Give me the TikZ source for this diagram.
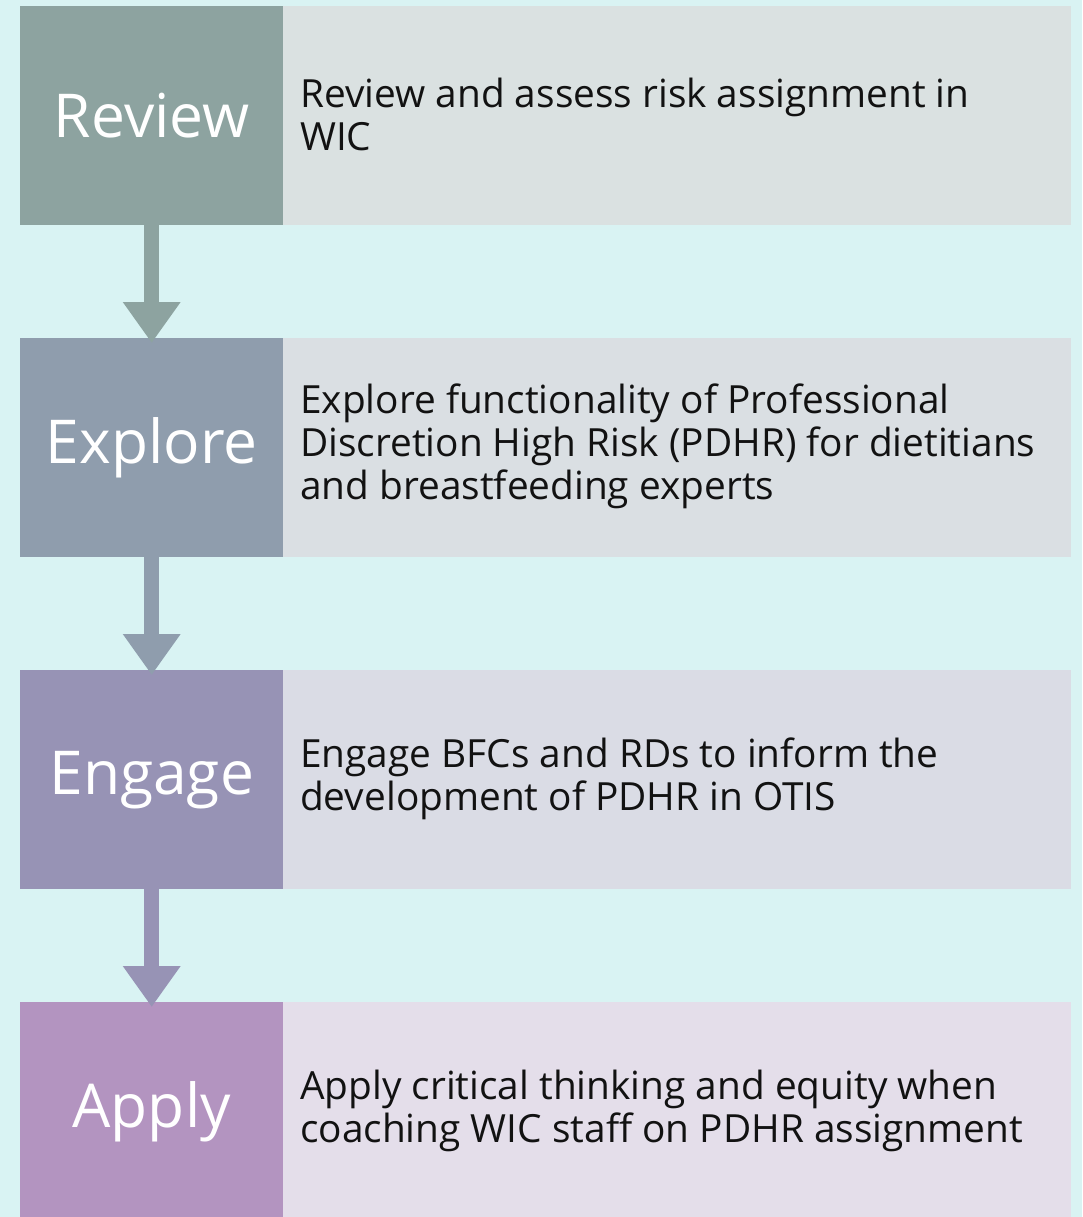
\documentclass[tikz,border=0pt]{standalone}
\usepackage{fontspec}
\setmainfont{Open Sans}[Ligatures=NoCommon]
\usetikzlibrary{arrows.meta}
\definecolor{bgc}{HTML}{D9F3F3}
\definecolor{revc}{HTML}{8DA3A0}
\definecolor{revp}{HTML}{DAE1E1}
\definecolor{expc}{HTML}{8F9DAD}
\definecolor{expp}{HTML}{DADFE3}
\definecolor{engc}{HTML}{9793B5}
\definecolor{engp}{HTML}{DADCE5}
\definecolor{appc}{HTML}{B394C0}
\definecolor{appp}{HTML}{E4DEEA}
\tikzset{
  x=1pt, y=-1pt,
  stage/.style={rectangle, inner sep=0pt, minimum width=263pt, minimum height=219pt,
    anchor=north west, text=white, font=\fontsize{60.5}{64}\selectfont},
  panel/.style={rectangle, inner sep=0pt, minimum width=788pt, minimum height=219pt,
    anchor=north west},
  desc/.style={anchor=west, align=left, text=black!93, inner sep=0pt,
    font=\fontsize{38.8}{43}\selectfont},
  flow/.style={line width=15pt, -{Triangle[width=55pt,length=41pt]}, shorten >=-5pt}
}
\begin{document}
\begin{tikzpicture}
\fill[bgc] (0,0) rectangle (1082,1217);
\useasboundingbox (0,0) rectangle (1082,1217);
\begin{scope}
\clip (0,0) rectangle (1082,1217);
% stage blocks
\node[stage, fill=revc] (s1) at (20,6) {Review};
\node[panel, fill=revp] (p1) at (283,6) {};
\node[stage, fill=expc] (s2) at (20,338) {Explore};
\node[panel, fill=expp] (p2) at (283,338) {};
\node[stage, fill=engc] (s3) at (20,670) {Engage};
\node[panel, fill=engp] (p3) at (283,670) {};
\node[stage, fill=appc] (s4) at (20,1002) {Apply};
\node[panel, fill=appp] (p4) at (283,1002) {};
% descriptions
\node[desc] (d1) at ([xshift=17pt,yshift=1pt]p1.west) {Review and assess risk assignment in\\WIC};
\node[desc] (d2) at ([xshift=17pt,yshift=1pt]p2.west) {Explore functionality of Professional\\Discretion High Risk (PDHR) for dietitians\\and breastfeeding experts};
\node[desc] (d3) at ([xshift=17pt,yshift=1pt]p3.west) {Engage BFCs and RDs to inform the\\development of PDHR in OTIS};
\node[desc] (d4) at ([xshift=17pt,yshift=1pt]p4.west) {Apply critical thinking and equity when\\coaching WIC staff on PDHR assignment};
\end{scope}
% connectors
\draw[flow, revc] (s1.south) -- (s2.north);
\draw[flow, expc] (s2.south) -- (s3.north);
\draw[flow, engc] (s3.south) -- (s4.north);
\end{tikzpicture}
\end{document}
